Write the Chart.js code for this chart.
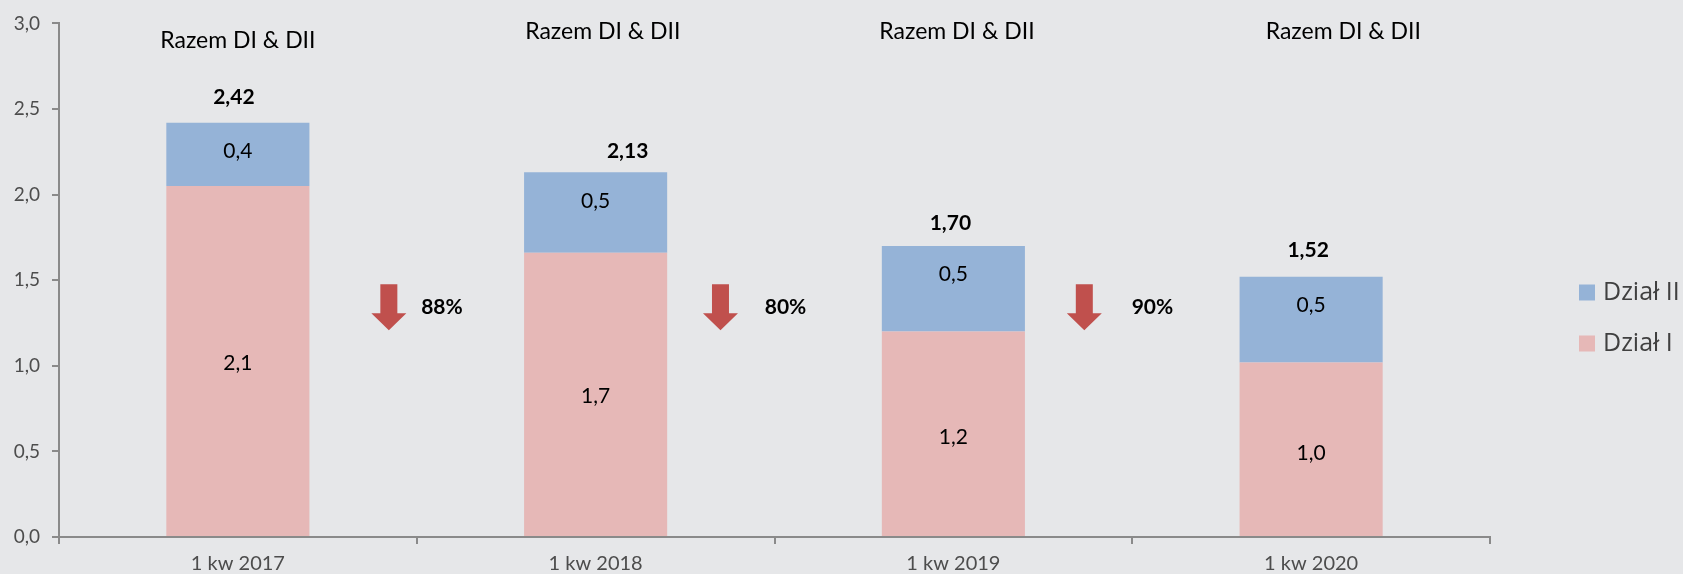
<!DOCTYPE html>
<html>
<head>
<meta charset="utf-8">
<script src="https://cdn.jsdelivr.net/npm/chart.js@4.4.1/dist/chart.umd.min.js"></script>
<style>
  html, body { margin: 0; padding: 0; background: #e6e7e9; }
  #wrap { width: 1683px; height: 574px; }
</style>
</head>
<body>
<div id="wrap"><canvas id="c" width="1683" height="574"></canvas></div>
<script>
// ---- data ----
const categories = ['1 kw 2017', '1 kw 2018', '1 kw 2019', '1 kw 2020'];
const dzialI  = [2.05, 1.66, 1.20, 1.02];
const dzialII = [0.37, 0.47, 0.50, 0.50];
const seriesNames = ['Dział I', 'Dział II'];
const yTicks = [0, 0.5, 1.0, 1.5, 2.0, 2.5, 3.0];
const groupTitle = 'Razem DI & DII';
const changeLabels = ['88%', '80%', '90%'];

// ---- styles / placement (not data) ----
const BG = '#e6e7e9';
const AXIS = '#8a8a8a';
const FONT = 'Lato, "Open Sans", sans-serif';
const fmt = (v, d) => (v + 1e-9).toFixed(d).replace('.', ',');

const place = {
  titleX: [0.0, 1.02, 2.01, 3.09], titleY: [2.90, 2.95, 2.95, 2.95],
  totalDx: [-4, 32, -3, -3], totalDy: [-25, -21, -23, -27],
  innerDy: [[2, 2, 3, 4], [-3, -11, -15, -14]],
  arrowX: [0.422, 1.349, 2.366], arrowTop: 1.477,
  pctX: [0.5705, 1.5307, 2.5565], pctY: 1.344
};

const bgPlugin = {
  id: 'bg',
  beforeDraw(chart) {
    const ctx = chart.ctx;
    ctx.save();
    ctx.fillStyle = BG;
    ctx.fillRect(0, 0, chart.width, chart.height);
    ctx.restore();
  }
};

const labelPlugin = {
  id: 'labels',
  afterDatasetsDraw(chart) {
    const ctx = chart.ctx;
    const xs = chart.scales.x, ys = chart.scales.y;
    ctx.save();
    ctx.textAlign = 'center';
    ctx.textBaseline = 'middle';
    // inner segment labels
    ctx.fillStyle = '#000';
    ctx.font = '21px ' + FONT;
    chart.data.datasets.forEach((ds, di) => {
      const meta = chart.getDatasetMeta(di);
      meta.data.forEach((bar, i) => {
        const y = (bar.y + bar.base) / 2 + place.innerDy[di][i];
        ctx.fillText(fmt(ds.data[i], 1), bar.x, y);
      });
    });
    // totals
    ctx.font = 'bold 21px ' + FONT;
    const top = chart.getDatasetMeta(chart.data.datasets.length - 1);
    top.data.forEach((bar, i) => {
      let sum = 0;
      chart.data.datasets.forEach(ds => sum += ds.data[i]);
      ctx.fillText(fmt(sum, 2), bar.x + place.totalDx[i], bar.y + place.totalDy[i]);
    });
    // group titles
    ctx.font = '23px ' + FONT;
    categories.forEach((c, i) => {
      ctx.fillText(groupTitle, xs.getPixelForValue(place.titleX[i]), ys.getPixelForValue(place.titleY[i]));
    });
    // arrows + percentages
    changeLabels.forEach((lab, i) => {
      const cx = xs.getPixelForValue(place.arrowX[i]);
      const ty = ys.getPixelForValue(place.arrowTop);
      const sw = 17, hw = 35, hh = 17, h = 46;
      ctx.fillStyle = '#c0504d';
      ctx.beginPath();
      ctx.moveTo(cx - sw / 2, ty);
      ctx.lineTo(cx + sw / 2, ty);
      ctx.lineTo(cx + sw / 2, ty + h - hh);
      ctx.lineTo(cx + hw / 2, ty + h - hh);
      ctx.lineTo(cx, ty + h);
      ctx.lineTo(cx - hw / 2, ty + h - hh);
      ctx.lineTo(cx - sw / 2, ty + h - hh);
      ctx.closePath();
      ctx.fill();
      ctx.fillStyle = '#000';
      ctx.font = 'bold 21px ' + FONT;
      ctx.fillText(lab, xs.getPixelForValue(place.pctX[i]), ys.getPixelForValue(place.pctY));
    });
    // legend (reverse order: Dział II on top)
    ctx.textAlign = 'left';
    ctx.font = '25px "Open Sans", sans-serif';
    const items = chart.data.datasets.slice().reverse();
    items.forEach((ds, k) => {
      const cy = 292.5 + k * 51;
      ctx.fillStyle = ds.backgroundColor;
      ctx.fillRect(1579, cy - 8, 16, 16);
      ctx.fillStyle = '#404040';
      ctx.fillText(ds.label, 1603, cy);
    });
    ctx.restore();
  }
};

new Chart(document.getElementById('c'), {
  type: 'bar',
  data: {
    labels: categories,
    datasets: [
      { label: seriesNames[0], data: dzialI, backgroundColor: '#e6b8b7', categoryPercentage: 0.4, barPercentage: 1.0 },
      { label: seriesNames[1], data: dzialII, backgroundColor: '#95b3d7', categoryPercentage: 0.4, barPercentage: 1.0 }
    ]
  },
  options: {
    responsive: false,
    animation: false,
    layout: { padding: { left: 0, right: 193, top: 19, bottom: 0 } },
    plugins: { legend: { display: false }, tooltip: { enabled: false } },
    scales: {
      x: {
        stacked: true,
        grid: { display: true, offset: true, drawOnChartArea: false, tickLength: 7, color: AXIS, lineWidth: 2 },
        border: { display: true, color: AXIS, width: 2 },
        ticks: { color: '#4d4d4d', font: { family: FONT, size: 20 }, padding: 8, maxRotation: 0 },
        afterFit(s) { s.height = 37; }
      },
      y: {
        stacked: true,
        min: 0, max: 3,
        afterBuildTicks(s) { s.ticks = yTicks.map(v => ({ value: v })); },
        grid: { display: true, drawOnChartArea: false, tickLength: 7, color: AXIS, lineWidth: 2 },
        border: { display: true, color: AXIS, width: 2 },
        ticks: { color: '#4d4d4d', font: { family: FONT, size: 19 }, padding: 12, callback: v => fmt(v, 1) },
        afterFit(s) { s.width = 59; }
      }
    }
  },
  plugins: [bgPlugin, labelPlugin]
});
</script>
</body>
</html>
